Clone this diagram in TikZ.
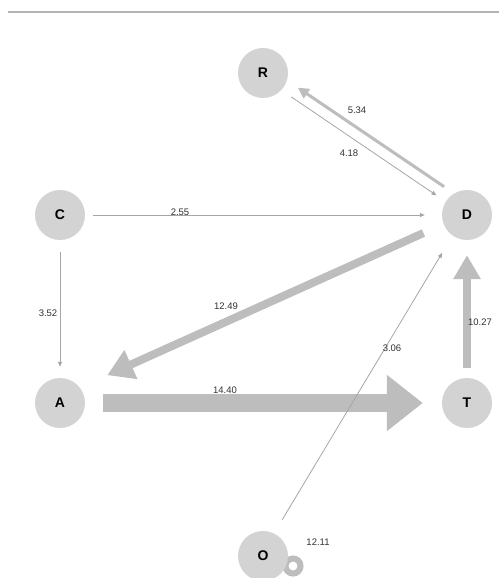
\documentclass[tikz,border=0pt]{standalone}
\usepackage{fontspec}
\setmainfont{Liberation Sans}
\usetikzlibrary{arrows.meta,calc}
\definecolor{nodegray}{HTML}{D3D3D3}
\definecolor{edgethick}{HTML}{BDBDBD}
\definecolor{edgethin}{HTML}{A6A6A6}
\definecolor{rulegray}{HTML}{B4B4B4}
\definecolor{lbltext}{HTML}{333333}
\begin{document}
\begin{tikzpicture}[x=1pt,y=-1pt,
  vtx/.style={circle,fill=nodegray,minimum size=50pt,inner sep=0pt,font=\fontsize{14}{16}\selectfont\bfseries},
  lbl/.style={font=\fontsize{9.5}{11}\selectfont,text=lbltext,inner sep=0pt},
  thinedge/.style={draw=edgethin,line width=0.8pt,-{Triangle[length=5pt,width=4pt]}},
  thickedge/.style={draw=edgethick},
  loopedge/.style={draw=edgethick,line width=6pt}
]
\useasboundingbox (0,0) rectangle (499,578);
\fill[white] (0,0) rectangle (499,578);
\draw[rulegray,line width=1.5pt] (8,12) -- (499,12);

% self loop of O (drawn first, node covers its left part)
\coordinate (Ocent) at (263,556);
\draw[loopedge] ($(Ocent)+(30,10)$) circle (7.5);

\node[vtx] (R) at (263,73) {R};
\node[vtx] (C) at (60,215) {C};
\node[vtx] (D) at (467,215) {D};
\node[vtx] (A) at (60,403) {A};
\node[vtx] (T) at (467,403) {T};
\node[vtx] (O) at (263,556) {O};

% edges
\draw[thickedge,line width=3pt,-{Triangle[length=11pt,width=11pt]},shorten <=12pt,shorten >=13pt] (D.121) -- (R.-17);
\draw[thinedge,shorten <=12pt,shorten >=11pt] (R.-43) -- (D.148);
\draw[thinedge,shorten <=8pt,shorten >=17pt] (C) -- (D);
\draw[thinedge,shorten <=12pt,shorten >=11pt] (C) -- (A);
\draw[thickedge,line width=8pt,-{Triangle[length=26pt,width=30pt]},shorten <=22pt,shorten >=30pt] (D.201) -- (A.38);
\draw[thickedge,line width=18pt,-{Triangle[length=36pt,width=54pt]},shorten <=18pt,shorten >=19pt] (A) -- (T);
\draw[thickedge,line width=8pt,-{Triangle[length=24pt,width=26pt]},shorten <=10pt,shorten >=15pt] (T) -- (D);
\draw[thinedge,shorten <=16pt,shorten >=20pt] (O.64) -- (D.235);

% labels
\node[lbl] (l534) at (357,110) {5.34};
\node[lbl] (l418) at (349,153) {4.18};
\node[lbl] (l255) at (180,212) {2.55};
\node[lbl] (l352) at (48,313) {3.52};
\node[lbl] (l1249) at (226,306) {12.49};
\node[lbl] (l1440) at (225,390) {14.40};
\node[lbl] (l1027) at (480,322) {10.27};
\node[lbl] (l306) at (392,348) {3.06};
\node[lbl] (l1211) at (318,542) {12.11};
\end{tikzpicture}
\end{document}
